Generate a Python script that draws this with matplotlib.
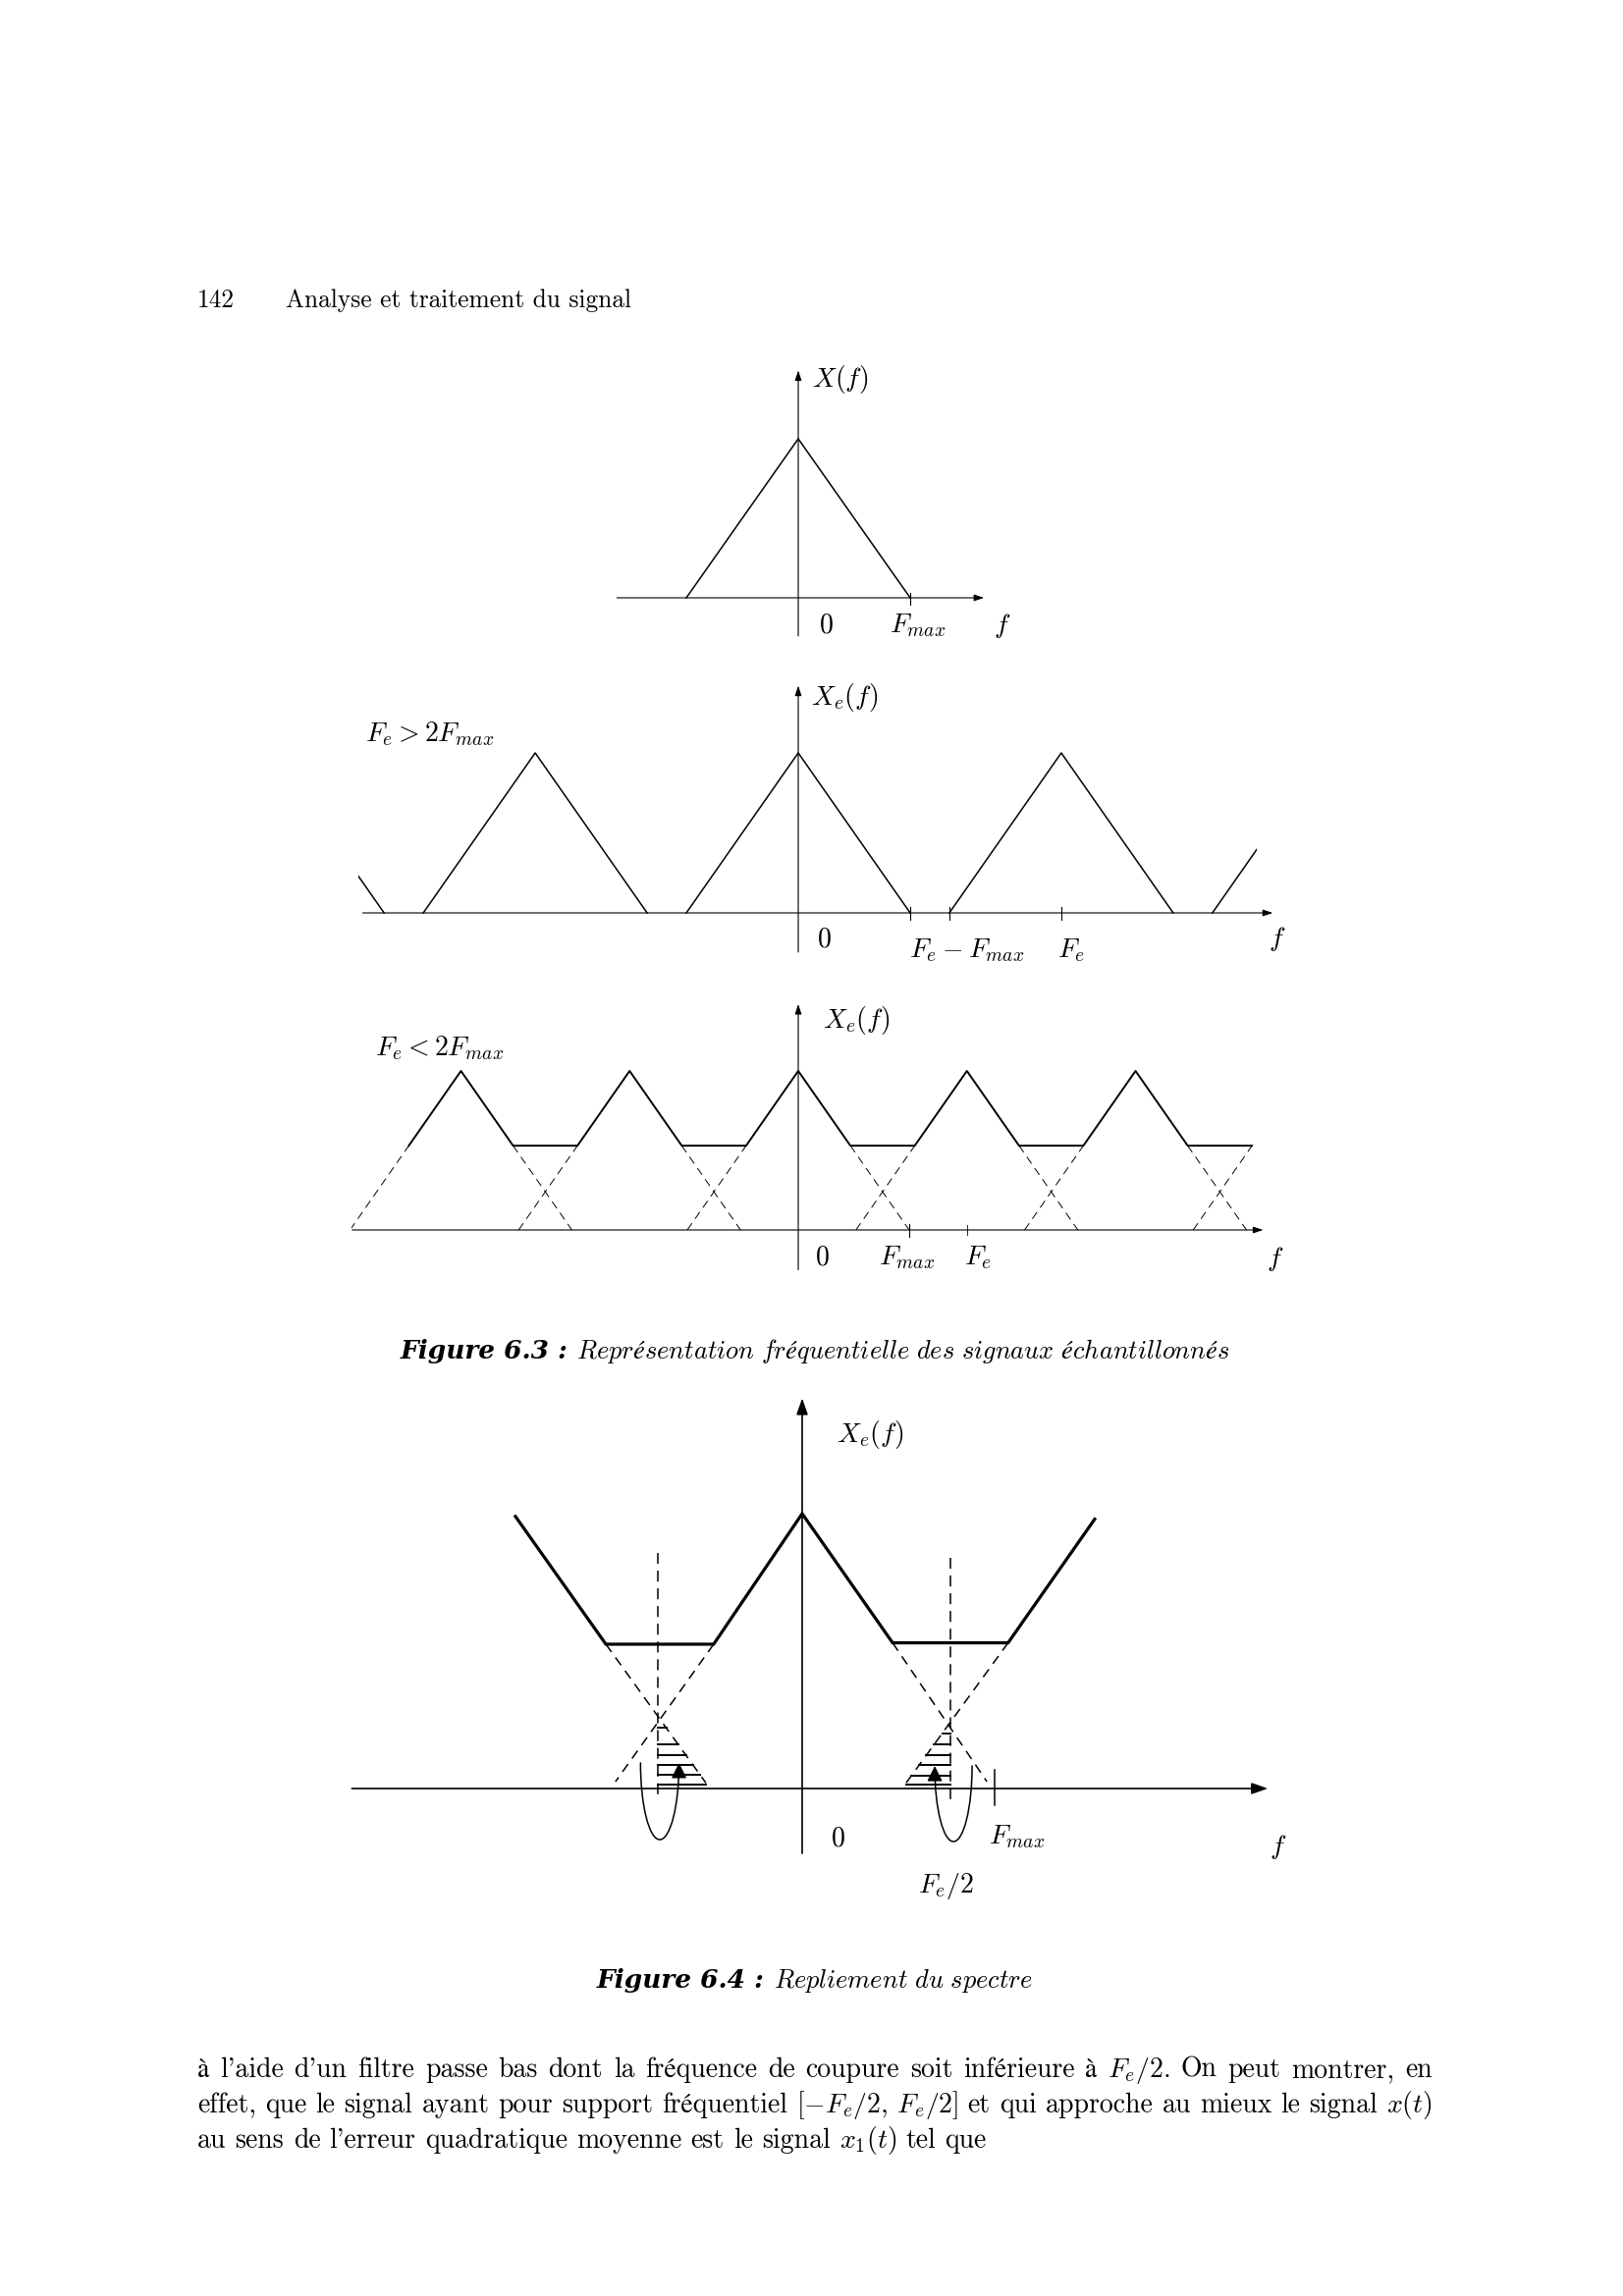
import numpy as np
import matplotlib
matplotlib.use('Agg')
import matplotlib.pyplot as plt
from matplotlib.patches import FancyArrowPatch, Rectangle
from matplotlib.path import Path

plt.rcParams['mathtext.fontset'] = 'cm'
plt.rcParams['lines.scale_dashes'] = False
plt.rcParams['font.family'] = ['cmr10', 'STIXGeneral']

W, H = 1653, 2339
FS = 20

# ---- values (f in units of Fmax, peak height = 1) ----
fmax = 1.0
tri_f = [-1.0, 0.0, 1.0]
tri_a = [0.0, 1.0, 0.0]

# fig 6.3, Fe > 2Fmax
fe_b = 2.35
k_b = [-2, -1, 0, 1, 2]
clip_b = (-3.93, 4.10)

# fig 6.3, Fe < 2Fmax
fe_c = 1.52
k_c = [-2, -1, 0, 1, 2, 3]
flat_c = 0.53      # niveau des paliers
knee_c = 0.47      # pic -> debut du palier
clip_c = (-4.03, 4.12)

# fig 6.4 (repliement)
sol_f = [-1.49, -1.02, -0.46, 0.0, 0.47, 1.07, 1.52]
sol_a = [0.99, 0.525, 0.525, 1.0, 0.53, 0.53, 0.98]
ext_from = [1, 2, 4, 5]
ext_end_f = [-0.50, -0.97, 0.96, 0.54]
ext_end_a = [0.02, 0.025, 0.025, 0.02]
half_fe = [-0.75, 0.77]
half_top = [0.857, 0.84]
half_bot = [-0.02, -0.046]
hatch_l = [0.22, 0.16, 0.12, 0.086, 0.05, 0.014]
hatch_r = [0.20, 0.16, 0.12, 0.086, 0.046, 0.014]

captions = [
    ('Figure 6.3 :', r'$\mathit{Représentation\ fréquentielle\ des\ signaux\ échantillonnés}$', 1384),
    ('Figure 6.4 :', r'$\mathit{Repliement\ du\ spectre}$', 2025),
]

body = [
    "à l'aide d'un filtre passe bas dont la fréquence de coupure soit inférieure à $F_e/2$. On peut montrer, en",
    r"effet, que le signal ayant pour support fréquentiel $[-F_e/2,\,F_e/2]$ et qui approche au mieux le signal $x(t)$",
    r"au sens de l'erreur quadratique moyenne est le signal $x_1(t)$ tel que",
]

fig = plt.figure(figsize=(W / 100, H / 100), dpi=100)
page = fig.add_axes([0, 0, 1, 1])
page.set_xlim(0, W)
page.set_ylim(H, 0)
page.axis('off')
renderer = fig.canvas.get_renderer()


def panel(ox, oy, ux, uy, box):
    l, t, r, b = box
    ax = fig.add_axes([l / W, 1 - b / H, (r - l) / W, (b - t) / H])
    ax.set_xlim((l - ox) / ux, (r - ox) / ux)
    ax.set_ylim((oy - b) / uy, (oy - t) / uy)
    ax.axis('off')
    return ax


def axes_arrows(ax, xr, yr, lw, hl, hw, ms):
    ap = dict(arrowstyle='-|>,head_length=%s,head_width=%s' % (hl, hw),
              lw=lw, color='k', shrinkA=0, shrinkB=0, mutation_scale=ms)
    ax.annotate('', xy=(xr[1], 0), xytext=(xr[0], 0), arrowprops=ap)
    ax.annotate('', xy=(0, yr[1]), xytext=(0, yr[0]), arrowprops=ap)


def lab(ax, x, y, s, **kw):
    ax.text(x, y, s, fontsize=FS, ha='left', va='baseline', **kw)


def clipbox(ax, lim):
    return Rectangle((lim[0], -1), lim[1] - lim[0], 3, transform=ax.transData)


# header
page.text(201, 313, '142', fontsize=18.3, va='baseline')
page.text(291, 313, 'Analyse et traitement du signal', fontsize=18.3, va='baseline')

# ---- X(f) ----
ax1 = panel(813, 609, 114, 162, (600, 340, 1060, 680))
axes_arrows(ax1, (-1.62, 1.66), (-0.24, 1.43), 0.8, 0.6, 0.2, 10)
ax1.plot(tri_f, tri_a, color='k', lw=1.1)
ax1.plot([fmax, fmax], [-0.045, 0.03], color='k', lw=0.8)
lab(ax1, 0.12, 1.33, r'$X(f)$')
lab(ax1, 0.18, -0.22, r'$0$')
lab(ax1, 0.82, -0.22, r'$F_{max}$')
lab(ax1, 1.75, -0.22, r'$f$')

# ---- Fe > 2Fmax ----
ax2 = panel(813, 930, 114, 163, (340, 680, 1340, 1000))
axes_arrows(ax2, (-3.89, 4.24), (-0.245, 1.42), 0.8, 0.6, 0.2, 10)
rect2 = clipbox(ax2, clip_b)
for k in k_b:
    c = k * fe_b
    ln, = ax2.plot([c + v for v in tri_f], tri_a, color='k', lw=1.1)
    ln.set_clip_path(rect2)
for t in [fmax, fe_b - fmax, fe_b]:
    ax2.plot([t, t], [-0.045, 0.035], color='k', lw=0.8)
lab(ax2, -3.87, 1.07, r'$F_e > 2F_{max}$')
lab(ax2, 0.11, 1.30, r'$X_e(f)$')
lab(ax2, 0.17, -0.21, r'$0$')
lab(ax2, 0.99, -0.28, r'$F_e - F_{max}$')
lab(ax2, 2.32, -0.28, r'$F_e$')
lab(ax2, 4.20, -0.21, r'$f$')

# ---- Fe < 2Fmax ----
ax3 = panel(813, 1253, 113, 162, (340, 1000, 1340, 1310))
axes_arrows(ax3, (-4.02, 4.19), (-0.25, 1.42), 0.8, 0.6, 0.2, 10)
rect3 = clipbox(ax3, clip_c)
sf, sa = [], []
for k in k_c[:-1]:
    c = k * fe_c
    sf += [c - knee_c, c, c + knee_c]
    sa += [flat_c, 1.0, flat_c]
sf.append(k_c[-1] * fe_c - knee_c)
sa.append(flat_c)
ax3.plot(sf, sa, color='k', lw=1.4)
for k in k_c:
    c = k * fe_c
    ln, = ax3.plot([c - fmax, c - knee_c], [0, flat_c], color='k', lw=0.7, dashes=(6, 4))
    ln.set_clip_path(rect3)
    if k != k_c[-1]:
        ln, = ax3.plot([c + knee_c, c + fmax], [flat_c, 0], color='k', lw=0.7, dashes=(6, 4))
        ln.set_clip_path(rect3)
ax3.plot([fmax, fmax], [-0.045, 0.035], color='k', lw=0.8)
ax3.plot([fe_c, fe_c], [-0.03, 0.03], color='k', lw=0.6)
lab(ax3, -3.81, 1.10, r'$F_e < 2F_{max}$')
lab(ax3, 0.22, 1.27, r'$X_e(f)$')
lab(ax3, 0.15, -0.22, r'$0$')
lab(ax3, 0.73, -0.22, r'$F_{max}$')
lab(ax3, 1.50, -0.22, r'$F_e$')
lab(ax3, 4.22, -0.23, r'$f$')

# ---- repliement du spectre ----
ax4 = panel(817, 1822, 196, 280, (340, 1400, 1340, 1960))
axes_arrows(ax4, (-2.34, 2.42), (-0.236, 1.42), 1.2, 1.0, 0.35, 10)
ax4.plot(sol_f, sol_a, color='k', lw=2.3, solid_joinstyle='miter')
for i, ef, ea in zip(ext_from, ext_end_f, ext_end_a):
    ax4.plot([sol_f[i], ef], [sol_a[i], ea], color='k', lw=1.1, dashes=(7, 5))
for x, t, b in zip(half_fe, half_top, half_bot):
    ax4.plot([x, x], [t, b], color='k', lw=1.1, dashes=(8, 5))
for h in hatch_l:
    xe = np.interp(h, [ext_end_a[0], sol_a[1]], [ext_end_f[0], sol_f[1]])
    ax4.plot([half_fe[0], xe], [h, h], color='k', lw=1.4)
for h in hatch_r:
    xe = np.interp(h, [ext_end_a[3], sol_a[5]], [ext_end_f[3], sol_f[5]])
    ax4.plot([xe, half_fe[1]], [h, h], color='k', lw=1.4)


def loop(ax, xc, hw, top, bot, start_left):
    s = -1 if start_left else 1
    x0, x1 = xc + s * hw, xc - s * hw
    k = 0.5523
    d = top - bot
    verts = [(x0, top), (x0, top - k * d), (xc + s * k * hw, bot), (xc, bot),
             (xc - s * k * hw, bot), (x1, top - k * d), (x1, top)]
    codes = [Path.MOVETO] + [Path.CURVE4] * 6
    ax.add_patch(FancyArrowPatch(path=Path(verts, codes),
                                 arrowstyle='-|>,head_length=0.47,head_width=0.235',
                                 mutation_scale=20, lw=1.1, color='k'))


loop(ax4, -0.74, 0.10, 0.093, -0.186, True)
loop(ax4, 0.786, 0.097, 0.082, -0.193, False)
ax4.plot([fmax, fmax], [0.068, -0.06], color='k', lw=1.1)
lab(ax4, 0.18, 1.26, r'$X_e(f)$')
lab(ax4, 0.15, -0.21, r'$0$')
lab(ax4, 0.97, -0.20, r'$F_{max}$')
lab(ax4, 0.60, -0.38, r'$F_e/2$')
lab(ax4, 2.43, -0.24, r'$f$')

# ---- captions: bold italic label + italic text, centred ----
for head, rest, yb in captions:
    t1 = page.text(0, yb, head, fontsize=19, family='DejaVu Serif',
                   weight='bold', style='italic', va='baseline')
    t2 = page.text(0, yb, rest, fontsize=19, va='baseline')
    w1 = t1.get_window_extent(renderer).width
    w2 = t2.get_window_extent(renderer).width
    gap = 9
    x0 = 830 - (w1 + gap + w2) / 2
    t1.set_x(x0)
    t2.set_x(x0 + w1 + gap)

# ---- body text, justified ----
x_left, x_right = 201, 1459
baselines = [2116, 2152, 2188]
justify = [True, True, False]
space = 0.333 * FS * 100 / 72
for line, yb, jf in zip(body, baselines, justify):
    toks = line.split(' ')
    txts = [page.text(0, yb, t, fontsize=FS, va='baseline') for t in toks]
    ws = [t.get_window_extent(renderer).width for t in txts]
    gap = (x_right - x_left - sum(ws)) / (len(ws) - 1) if jf else space
    x = x_left
    for t, w in zip(txts, ws):
        t.set_x(x)
        x += w + gap

fig.savefig('out.png', dpi=100)
